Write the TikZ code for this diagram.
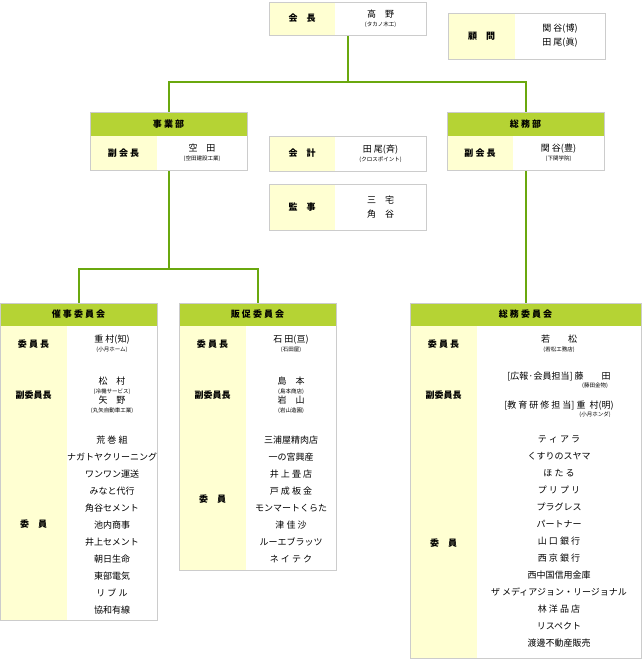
\documentclass[tikz,border=0pt]{standalone}
\usepackage{fontspec}
\setmainfont{Noto Sans CJK JP}
\usetikzlibrary{positioning}
\definecolor{leaf}{HTML}{B5D334}
\definecolor{stem}{HTML}{6AA80E}
\definecolor{cream}{HTML}{FFFFD2}
\definecolor{rim}{HTML}{CCCCCC}
\newcommand{\nm}{\fontsize{9}{11}\selectfont}
\newcommand{\co}[1]{\\[-2pt]{\fontsize{5.5}{7}\selectfont(#1)}}
% row of a box: x1 x2 x3 y1 y2 label content
\newcommand{\rowcell}[7]{%
  \fill[cream] (#1,#4) rectangle (#2,#5);
  \fill[white] (#2,#4) rectangle (#3,#5);
  \draw[rim] (#1,#5) -- (#3,#5);
  \node[lab] at ({(#1+#2)/2},{(#4+#5)/2}) {#6};
  \node[txt] at ({(#2+#3)/2},{(#4+#5)/2}) {#7};}
\newcommand{\headcell}[5]{%
  \fill[leaf] (#1,#3) rectangle (#2,#4);
  \node[lab] at ({(#1+#2)/2},{(#3+#4)/2}) {#5};}

\begin{document}
\begin{tikzpicture}[x=1pt,y=-1pt,
  box/.style={draw=rim,line width=1.2pt,anchor=north west,inner sep=0pt},
  lab/.style={font=\bfseries\nm},
  txt/.style={font=\nm,align=center},
  conn/.style={stem,line width=2.5pt}]
  \useasboundingbox (0,0) rectangle (642,660);
	% Top
	\rowcell{269}{335}{426}{2}{35}{会\quad 長}{高\quad 野\co{タカノ木工}}
	\node[box,minimum width=157pt,minimum height=33pt] (kaicho) at (269,2) {};
	\rowcell{448}{515}{605}{13}{59}{顧\quad 問}{関\ 谷(博)\\[3pt]田\ 尾(眞)}
	\node[box,minimum width=157pt,minimum height=46pt] (komon) at (448,13) {};
	% Departments
	\headcell{90}{247}{112}{136}{事 業 部}
	\rowcell{90}{157}{247}{136}{170}{副 会 長}{空\quad 田\co{空田建設工業}}
	\node[box,minimum width=157pt,minimum height=58pt] (jigyo) at (90,112) {};
	\headcell{447}{604}{112}{136}{総 務 部}
	\rowcell{447}{513}{604}{136}{170}{副 会 長}{関\ 谷(豊)\co{下関学院}}
	\node[box,minimum width=157pt,minimum height=58pt] (somu) at (447,112) {};
	\rowcell{269}{335}{426}{136}{171}{会\quad 計}{田\ 尾(斉)\co{クロスポイント}}
	\node[box,minimum width=157pt,minimum height=35pt] (kaikei) at (269,136) {};
	\rowcell{269}{335}{426}{184}{230}{監\quad 事}{三\quad 宅\\[3pt]角\quad 谷}
	\node[box,minimum width=157pt,minimum height=46pt] (kanji) at (269,184) {};
	% Committees
	\headcell{0}{157}{303}{326}{催 事 委 員 会}
	\rowcell{0}{67}{157}{326}{362}{委 員 長}{重\ 村(知)\co{小月ホーム}}
	\rowcell{0}{67}{157}{362}{428}{副委員長}{松\quad 村\co{冷機サービス}\\[-1pt]矢\quad 野\co{丸矢自動車工業}}
	\rowcell{0}{67}{157}{428}{620}{委\quad 員}{}
	\node[txt,font=\fontsize{9}{17}\selectfont,anchor=north] (saiji-list) at (112,432) {荒 巻 組\\ナガトヤクリーニング\\ワンワン運送\\みなと代行\\角谷セメント\\池内商事\\井上セメント\\朝日生命\\東部電気\\リ ブ ル\\協和有線};
	\node[box,minimum width=157pt,minimum height=317pt] (saiji) at (0,303) {};
	\headcell{179}{336}{303}{326}{販 促 委 員 会}
	\rowcell{179}{246}{336}{326}{362}{委 員 長}{石\ 田(亘)\co{石田屋}}
	\rowcell{179}{246}{336}{362}{428}{副委員長}{島\quad 本\co{島本商店}\\[-1pt]岩\quad 山\co{岩山造園}}
	\rowcell{179}{246}{336}{428}{570}{委\quad 員}{}
	\node[txt,font=\fontsize{9}{17}\selectfont,anchor=north] (hansoku-list) at (291,432) {三浦屋精肉店\\一の宮興産\\井 上 畳 店\\戸 成 板 金\\モンマートくらた\\津 佳 沙\\ルーエブラッツ\\ネ イ テ ク};
	\node[box,minimum width=157pt,minimum height=267pt] (hansoku) at (179,303) {};
	\headcell{410}{641}{303}{326}{総 務 委 員 会}
	\rowcell{410}{477}{641}{326}{362}{委 員 長}{若\qquad 松\co{若松工務店}}
	\rowcell{410}{477}{641}{362}{428}{副委員長}{}
	\node[txt,anchor=north] (fuku1) at (559,368) {[広報·会員担当]\ 藤\qquad 田\\[-3pt]\hspace*{8em}{\fontsize{5.5}{7}\selectfont(藤田金物)}};
	\node[txt,anchor=north] (fuku2) at (559,397) {[教 育 研 修 担 当]\ 重\ \ 村(明)\\[-3pt]\hspace*{8em}{\fontsize{5.5}{7}\selectfont(小月ホンダ)}};
	\rowcell{410}{477}{641}{428}{658}{委\quad 員}{}
	\node[txt,font=\fontsize{9}{17}\selectfont,anchor=north] (somu-list) at (559,432) {テ ィ ア ラ\\くすりのスヤマ\\ほ た る\\プ リ プ リ\\プラグレス\\パートナー\\山 口 銀 行\\西 京 銀 行\\西中国信用金庫\\ザ メディアジョン・リージョナル\\林 洋 品 店\\リスペクト\\渡邊不動産販売};
	\node[box,minimum width=231pt,minimum height=355pt] (somuiin) at (410,303) {};
	% Connectors
	\draw[conn] (kaicho.south) -- ++(0,46) coordinate (top-fork);
	\draw[conn] (jigyo.north) |- (top-fork) -| (somu.north);
	\draw[conn] (jigyo.south) -- ++(0,98) coordinate (jigyo-fork);
	\draw[conn] (saiji.north) |- (jigyo-fork) -| (hansoku.north);
	\draw[conn] (somu.south) -- (somuiin.north);
\end{tikzpicture}
\end{document}
